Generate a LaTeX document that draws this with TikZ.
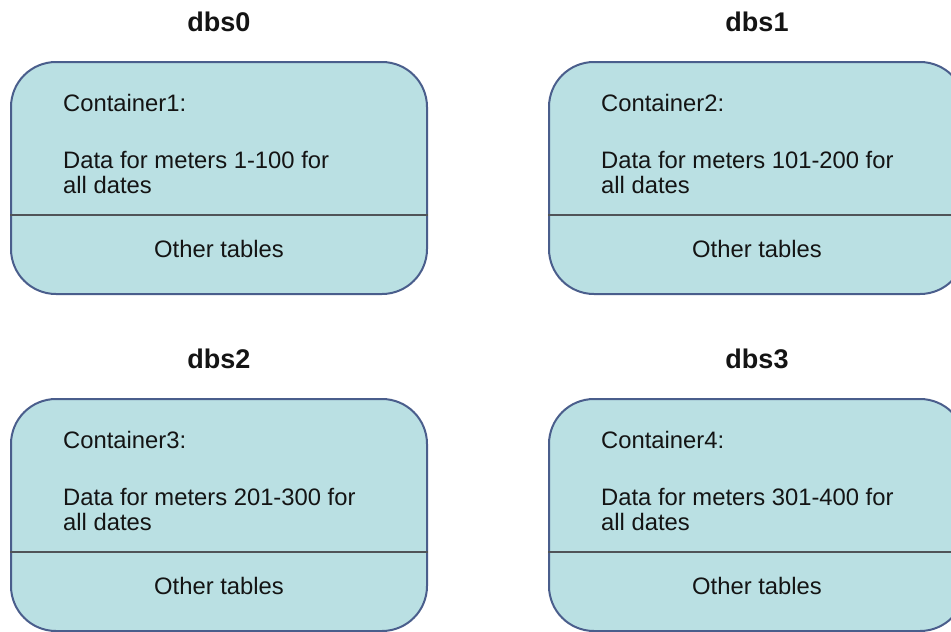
\documentclass[tikz,border=0pt]{standalone}
\usepackage{fontspec}
\setmainfont{Liberation Sans}
\usetikzlibrary{calc}
\definecolor{boxfill}{RGB}{186,224,227}
\definecolor{boxline}{RGB}{74,94,140}
\definecolor{rulegrey}{RGB}{80,84,88}
\definecolor{inktext}{RGB}{20,20,20}
\tikzset{
  dbsbox/.style={draw=boxline, fill=boxfill, line width=2pt, rounded corners=45pt,
    minimum width=416pt, minimum height=232pt, inner sep=0pt, anchor=north west},
  dbstitle/.style={font=\bfseries\fontsize{27}{32}\selectfont, text=inktext, anchor=base, inner sep=0pt},
  boxtext/.style={font=\fontsize{23.8}{27}\selectfont, text=inktext, anchor=base west, inner sep=0pt},
  othertext/.style={font=\fontsize{23.8}{27}\selectfont, text=inktext, anchor=base, inner sep=0pt},
  divider/.style={draw=rulegrey, line width=1.4pt},
}
% #1 name, #2 x, #3 y (top-left, downward), #4 title, #5 container, #6 meter range
\newcommand\dbspanel[6]{%
  \node[dbsbox] (#1) at (#2,#3) {};
  \node[dbstitle] (#1title) at ($(#1.north)+(0,-30)$) {#4};
  \node[boxtext] (#1cont) at ($(#1.north west)+(53,50)$) {#5:};
  \node[boxtext] (#1data) at ($(#1.north west)+(53,107)$) {Data for meters #6 for};
  \node[boxtext] (#1dates) at ($(#1.north west)+(53,132)$) {all dates};
  \coordinate (#1divl) at ($(#1.north west)+(0,154)$);
  \coordinate (#1divr) at ($(#1.north east)+(0,154)$);
  \draw[divider] (#1divl) -- (#1divr);
  \node[othertext] (#1other) at ($(#1.north)+(0,196)$) {Other tables};
}
\begin{document}
\begin{tikzpicture}[x=1pt,y=-1pt]
  \clip (0,0) rectangle (951,632);
  \fill[white] (0,0) rectangle (951,632);
  \dbspanel{dbs0}{10}{61}{dbs0}{Container1}{1-100}
  \dbspanel{dbs1}{548}{61}{dbs1}{Container2}{101-200}
  \dbspanel{dbs2}{10}{398}{dbs2}{Container3}{201-300}
  \dbspanel{dbs3}{548}{398}{dbs3}{Container4}{301-400}
\end{tikzpicture}
\end{document}
